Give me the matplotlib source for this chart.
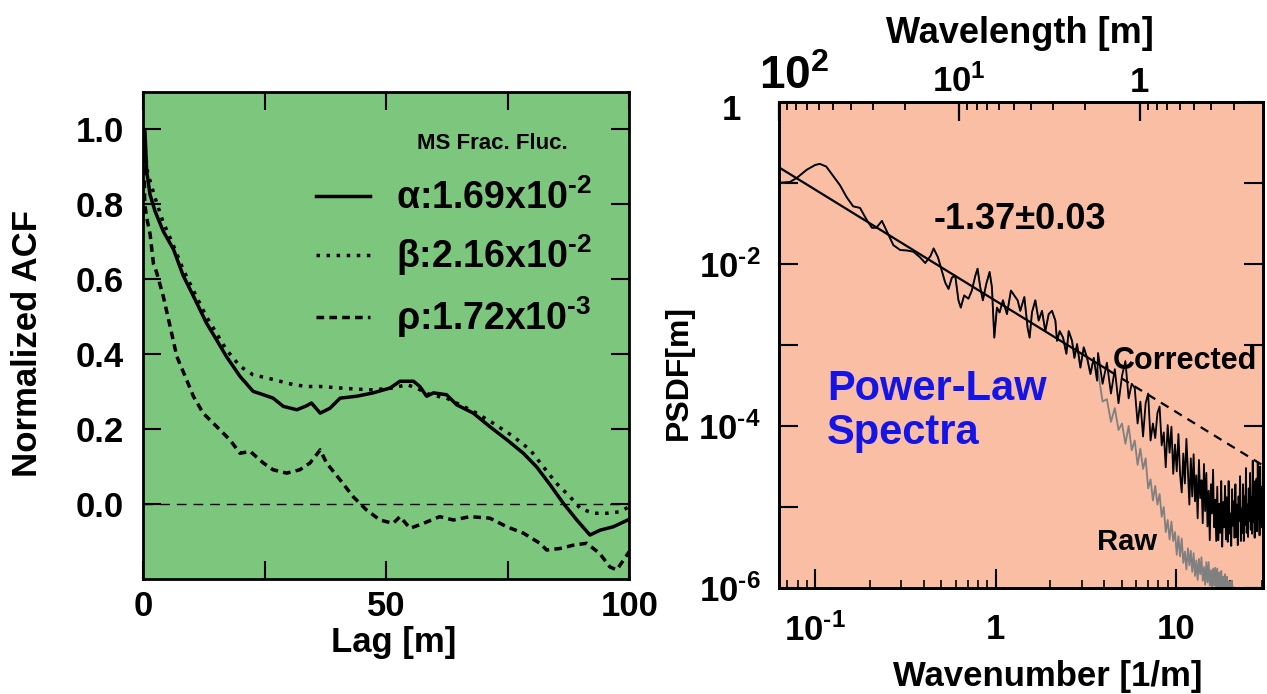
import numpy as np
import matplotlib.pyplot as plt
from matplotlib.ticker import LogLocator, NullFormatter
from matplotlib.transforms import ScaledTranslation

plt.rcParams['font.family'] = ['Liberation Sans', 'DejaVu Sans']
plt.rcParams['font.weight'] = 'bold'
plt.rcParams['axes.labelweight'] = 'bold'
plt.rcParams['mathtext.fontset'] = 'custom'
for k_ in ('rm', 'it', 'bf', 'sf'):
    plt.rcParams['mathtext.' + k_] = 'Liberation Sans:bold'
plt.rcParams['mathtext.default'] = 'rm'

HY = '\u2010'  # short hyphen for exponents, as in the original

# ---- left panel: normalized ACF vs lag ----
lag_a = [0, 0.34, 0.69, 1.38, 2.4, 4.1, 6.2, 8.2, 10.5, 13.0, 15.0, 17.1, 19.9, 22.6, 24.7,
         26.7, 28.8, 31.6, 33.5, 34.6, 36.4, 38.4, 40.5, 43.9, 47.3, 50.8, 52.8, 55.6, 56.9,
         58.3, 59.7, 62.4, 64.5, 67.9, 71.3, 74.8, 78.2, 80.9, 83.7, 86.4, 89.2, 91.9, 94.0,
         96.7, 100]
acf_a = [1.0, 0.995, 0.889, 0.826, 0.782, 0.728, 0.68, 0.61, 0.55, 0.483, 0.44, 0.394, 0.341,
         0.301, 0.292, 0.283, 0.261, 0.252, 0.262, 0.27, 0.243, 0.256, 0.283, 0.288, 0.297,
         0.31, 0.328, 0.328, 0.314, 0.288, 0.297, 0.292, 0.265, 0.243, 0.207, 0.172, 0.136,
         0.10, 0.052, 0.003, -0.042, -0.082, -0.069, -0.060, -0.040]

lag_b = [0, 0.5, 0.9, 2.3, 4.0, 6.1, 8.2, 10.3, 13.0, 15.1, 17.1, 19.9, 22.6, 25.4, 28.1,
         30.9, 33.6, 36.4, 40.5, 43.9, 47.3, 51.4, 54.2, 56.2, 59.0, 62.4, 65.2, 67.9, 72.0,
         76.1, 79.6, 82.3, 85.0, 87.8, 89.9, 92.6, 95.3, 98.1, 100]
acf_b = [1.0, 0.93, 0.884, 0.822, 0.755, 0.693, 0.626, 0.57, 0.50, 0.455, 0.412, 0.368, 0.345,
         0.337, 0.328, 0.319, 0.314, 0.314, 0.31, 0.307, 0.305, 0.31, 0.319, 0.31, 0.292,
         0.283, 0.265, 0.248, 0.216, 0.181, 0.145, 0.10, 0.056, 0.02, -0.011, -0.024, -0.024,
         -0.02, -0.006]

lag_r = [0, 0.3, 0.7, 1.4, 2.1, 2.7, 4.1, 5.5, 6.9, 8.9, 10.3, 12.3, 15.1, 17.8, 19.9, 22.0,
         24.7, 26.7, 29.5, 32.2, 34.3, 36.4, 37.7, 40.5, 43.2, 45.9, 48.7, 51.4, 52.8, 54.9,
         57.6, 61.0, 63.8, 67.2, 71.3, 74.8, 78.2, 81.6, 83.0, 85.7, 88.5, 91.2, 93.9, 96.0,
         97.4, 98.8, 100]
acf_r = [1.0, 0.80, 0.764, 0.72, 0.64, 0.62, 0.555, 0.475, 0.394, 0.332, 0.288, 0.243, 0.207,
         0.172, 0.136, 0.141, 0.11, 0.092, 0.083, 0.092, 0.11, 0.145, 0.11, 0.065, 0.02,
         -0.015, -0.042, -0.051, -0.033, -0.064, -0.051, -0.033, -0.042, -0.033, -0.037,
         -0.06, -0.077, -0.104, -0.122, -0.118, -0.109, -0.104, -0.131, -0.167, -0.175,
         -0.149, -0.126]

legend_labels = ['α:1.69x10$^{' + HY + '2}$', 'β:2.16x10$^{' + HY + '2}$',
                 'ρ:1.72x10$^{' + HY + '3}$']

# ---- right panel: power spectral density (log10 values) ----
k_low = [0.0628, 0.0723, 0.0789, 0.0895, 0.0998, 0.106, 0.115, 0.125, 0.137, 0.149, 0.162,
         0.177, 0.193, 0.206, 0.218, 0.234, 0.248, 0.271, 0.296, 0.322, 0.350, 0.381, 0.407,
         0.436, 0.453, 0.479, 0.525, 0.548, 0.572, 0.597, 0.622, 0.641, 0.669, 0.707, 0.738,
         0.771, 0.794, 0.822, 0.850, 0.887, 0.926, 0.954, 0.983, 1.017, 1.052, 1.098, 1.156,
         1.216, 1.269, 1.325, 1.370, 1.443, 1.505, 1.544, 1.591, 1.660, 1.733, 1.808, 1.887,
         1.970, 2.055, 2.145, 2.191, 2.267, 2.366, 2.469, 2.544, 2.654, 2.735, 2.830, 2.953,
         3.082, 3.216, 3.357, 3.503, 3.655]
psd_low = [-1.00, -0.99, -0.94, -0.84, -0.78, -0.767, -0.80, -0.91, -1.03, -1.175, -1.29,
           -1.31, -1.46, -1.555, -1.555, -1.47, -1.59, -1.77, -1.83, -1.835, -1.85, -1.92,
           -1.99, -1.90, -1.81, -1.92, -2.23, -2.31, -2.17, -2.145, -2.45, -2.54, -2.39, -2.43,
           -2.33, -2.15, -2.06, -2.29, -2.45, -2.25, -2.10, -2.29, -2.91, -2.54, -2.60, -2.45,
           -2.62, -2.33, -2.39, -2.45, -2.58, -2.41, -2.79, -2.91, -2.60, -2.45, -2.70, -2.58,
           -2.83, -2.62, -2.58, -2.70, -2.95, -2.83, -2.91, -3.11, -2.83, -2.95, -3.16, -2.99,
           -3.28, -3.03, -3.16, -3.36, -3.16, -3.44]

k_high = np.linspace(3.7, 30.0, 120)
psd_corr_high = [
    -3.10, -3.48, -3.22, -3.60, -3.30, -3.72, -3.38, -3.20, -3.66, -3.48,
    -3.53, -3.97, -3.70, -4.13, -3.72, -3.60, -4.18, -3.97, -4.15, -3.84,
    -3.76, -4.24, -4.08, -4.51, -3.99, -4.33, -4.01, -4.59, -4.23, -4.56,
    -4.10, -4.60, -4.82, -4.34, -4.71, -4.16, -4.55, -4.97, -4.40, -4.87,
    -4.35, -4.93, -4.61, -5.14, -4.42, -4.89, -4.67, -5.20, -4.47, -5.05,
    -4.58, -5.24, -4.80, -5.41, -4.72, -5.08, -4.54, -5.25, -4.91, -5.42,
    -4.75, -5.41, -4.96, -5.32, -4.68, -5.49, -4.94, -5.25, -4.74, -5.40,
    -4.88, -5.43, -4.68, -5.33, -5.08, -5.48, -4.78, -5.23, -4.93, -5.38,
    -4.72, -5.37, -4.97, -5.47, -4.87, -5.17, -4.62, -5.42, -5.02, -5.32,
    -4.72, -5.42, -4.87, -5.22, -4.52, -5.32, -4.97, -5.37, -4.77, -5.17,
    -4.58, -5.28, -4.88, -5.33, -4.43, -5.18, -4.78, -5.38, -4.68, -5.08,
    -4.65, -5.30, -4.45, -5.15, -4.80, -5.35, -4.50, -5.20, -4.75, -5.25]
psd_raw_high = [
    -3.33, -3.70, -3.67, -3.95, -3.78, -4.05, -3.97, -4.22, -4.00, -4.30,
    -4.18, -4.48, -4.28, -4.53, -4.40, -4.77, -4.66, -4.92, -4.74, -4.97,
    -4.84, -5.12, -5.00, -5.31, -5.16, -5.40, -5.18, -5.42, -5.31, -5.59,
    -5.36, -5.61, -5.39, -5.69, -5.55, -5.77, -5.51, -5.72, -5.54, -5.80,
    -5.57, -5.85, -5.66, -5.90, -5.64, -5.83, -5.62, -5.91, -5.74, -5.96,
    -5.68, -5.93, -5.68, -5.97, -5.78, -6.02, -5.76, -5.97, -5.75, -6.02,
    -5.76, -6.02, -5.81, -6.08, -5.79, -6.03, -5.86, -6.12, -5.83, -6.08,
    -5.86, -6.13, -5.92, -6.18, -5.92, -6.15, -5.91, -6.19, -5.99, -6.22,
    -6.00, -6.25, -6.05, -6.30, -6.10, -6.35]

fit_slope = -1.37
fit_amp = 3.5e-3      # value of the fit at k = 1
fit_k_solid = [2 * np.pi / 100, 4.2]
fit_k_dash = [4.2, 30.4]

k_corr = np.concatenate([k_low, k_high])
psd_corr = 10 ** np.concatenate([psd_low, psd_corr_high])
k_raw = np.concatenate([k_low, k_high[:len(psd_raw_high)]])
psd_raw = 10 ** np.concatenate([psd_low, psd_raw_high])

fig = plt.figure(figsize=(12.67, 6.94), dpi=100)

# ---------------- left panel ----------------
ax1 = fig.add_axes([0.1131, 0.1653, 0.3836, 0.7026])
ax1.set_facecolor('#7dc67e')
ax1.plot(lag_a, acf_a, color='k', lw=2.5, ls='-', label=legend_labels[0])
ax1.plot(lag_b, acf_b, color='k', lw=2.5, ls=(0, (1, 1.9)), label=legend_labels[1])
ax1.plot(lag_r, acf_r, color='k', lw=2.5, ls=(0, (2.2, 1.5)), label=legend_labels[2])
ax1.axhline(0, color='k', lw=1, ls=(0, (7, 5)))
ax1.set_xlim(0, 100)
ax1.set_ylim(-0.2, 1.1)
ax1.set_xticks([0, 25, 50, 75, 100], labels=['0', '', '50', '', '100'])
ax1.set_yticks([0, 0.2, 0.4, 0.6, 0.8, 1.0],
               labels=['0.0', '0.2', '0.4', '0.6', '0.8', '1.0'])
ax1.tick_params(direction='in', length=13, width=1.5, top=True, right=True, labelsize=25)
ax1.tick_params(axis='x', pad=8)
ax1.tick_params(axis='y', pad=14)
for s in ax1.spines.values():
    s.set_linewidth(2)
ax1.set_xlabel('Lag [m]', fontsize=25)
ax1.xaxis.set_label_coords(0.516, -0.095)
ax1.xaxis.label.set_va('top')
ax1.set_ylabel('Normalized ACF', fontsize=25)
ax1.yaxis.set_label_coords(-0.205, 0.483)
ax1.text(0.7175, 0.893, 'MS Frac. Fluc.', transform=ax1.transAxes, fontsize=16,
         ha='center', va='center')
ax1.legend(loc='upper left', bbox_to_anchor=(0.355, 0.82), frameon=False, fontsize=27,
           handlelength=1.45, handletextpad=0.7, labelspacing=0.42, borderpad=0,
           borderaxespad=0)

# ---------------- right panel ----------------
ax2 = fig.add_axes([0.6148, 0.1527, 0.3820, 0.7007])
ax2.set_facecolor('#f9bea4')
ax2.set_xscale('log')
ax2.set_yscale('log')
ax2.plot(k_raw, psd_raw, color='#808080', lw=1.3)
ax2.plot(k_corr, psd_corr, color='k', lw=1.3)
ax2.plot(fit_k_solid, fit_amp * np.array(fit_k_solid) ** fit_slope, color='k', lw=1.6)
ax2.plot(fit_k_dash, fit_amp * np.array(fit_k_dash) ** fit_slope, color='k', lw=1.6,
         ls=(0, (4, 3)))
ax2.set_xlim(2 * np.pi / 100, 30.4)
ax2.set_ylim(1e-6, 1)

ax2.set_xticks([0.1, 1, 10], labels=['$10^{' + HY + '1}$', '1', '10'])
ax2.xaxis.set_minor_locator(LogLocator(subs=np.arange(2, 10)))
ax2.xaxis.set_minor_formatter(NullFormatter())
ax2.set_yticks([1, 1e-1, 1e-2, 1e-3, 1e-4, 1e-5, 1e-6],
               labels=['1', '', '$10^{' + HY + '2}$', '', '$10^{' + HY + '4}$', '',
                       '$10^{' + HY + '6}$'])
ax2.yaxis.set_minor_locator(plt.NullLocator())
ax2.tick_params(which='major', direction='in', length=14, width=1.5, right=True, top=False,
                labelsize=25)
ax2.tick_params(which='minor', direction='in', length=6, width=1.2, top=False)
ax2.tick_params(axis='x', pad=18)
ax2.tick_params(axis='y', pad=13)
for s in ax2.spines.values():
    s.set_linewidth(2)

# top axis: wavelength = 2*pi / wavenumber
ax3 = ax2.twiny()
ax3.set_xscale('log')
ax3.set_xlim(2 * np.pi / np.array(ax2.get_xlim()))
ax3.set_xticks([100, 10, 1], labels=['$10^{2}$', '$10^{1}$', '1'])
ax3.xaxis.set_minor_locator(LogLocator(subs=np.arange(2, 10)))
ax3.xaxis.set_minor_formatter(NullFormatter())
ax3.tick_params(which='major', direction='in', length=14, width=1.6, labelsize=25, pad=2)
ax3.tick_params(which='minor', direction='in', length=6, width=1.3)
for s in ax3.spines.values():
    s.set_linewidth(2)
ax3.set_xlabel('Wavelength [m]', fontsize=26)
ax3.xaxis.set_label_coords(0.498, 1.12)

# the "10^2" label sits a little right of its tick, the "1" of the y axis a little left
lbl_top = ax3.xaxis.get_major_ticks()[0].label2
lbl_top.set_fontsize(33)
lbl_top.set_transform(lbl_top.get_transform() + ScaledTranslation(0.15, 0, fig.dpi_scale_trans))
lbl_one = ax2.yaxis.get_major_ticks()[0].label1
lbl_one.set_transform(lbl_one.get_transform() + ScaledTranslation(-0.2, -0.05,
                                                                   fig.dpi_scale_trans))

ax2.set_xlabel('Wavenumber [1/m]', fontsize=25)
ax2.xaxis.set_label_coords(0.555, -0.148)
ax2.xaxis.label.set_va('top')
ax2.set_ylabel('PSDF[m]', fontsize=23)
ax2.yaxis.set_label_coords(-0.175, 0.444)

ax2.text(0.498, 0.757, '-1.37±0.03', transform=ax2.transAxes, fontsize=26,
         ha='center', va='center')
ax2.text(0.690, 0.467, 'Corrected', transform=ax2.transAxes, fontsize=22,
         ha='left', va='center')
ax2.text(0.657, 0.095, 'Raw', transform=ax2.transAxes, fontsize=21, ha='left', va='center')
ax2.text(0.099, 0.364, 'Power-Law\nSpectra', transform=ax2.transAxes, fontsize=30,
         color='#1414e6', ha='left', va='center', linespacing=1.15)

fig.savefig('out.png', dpi=100)
